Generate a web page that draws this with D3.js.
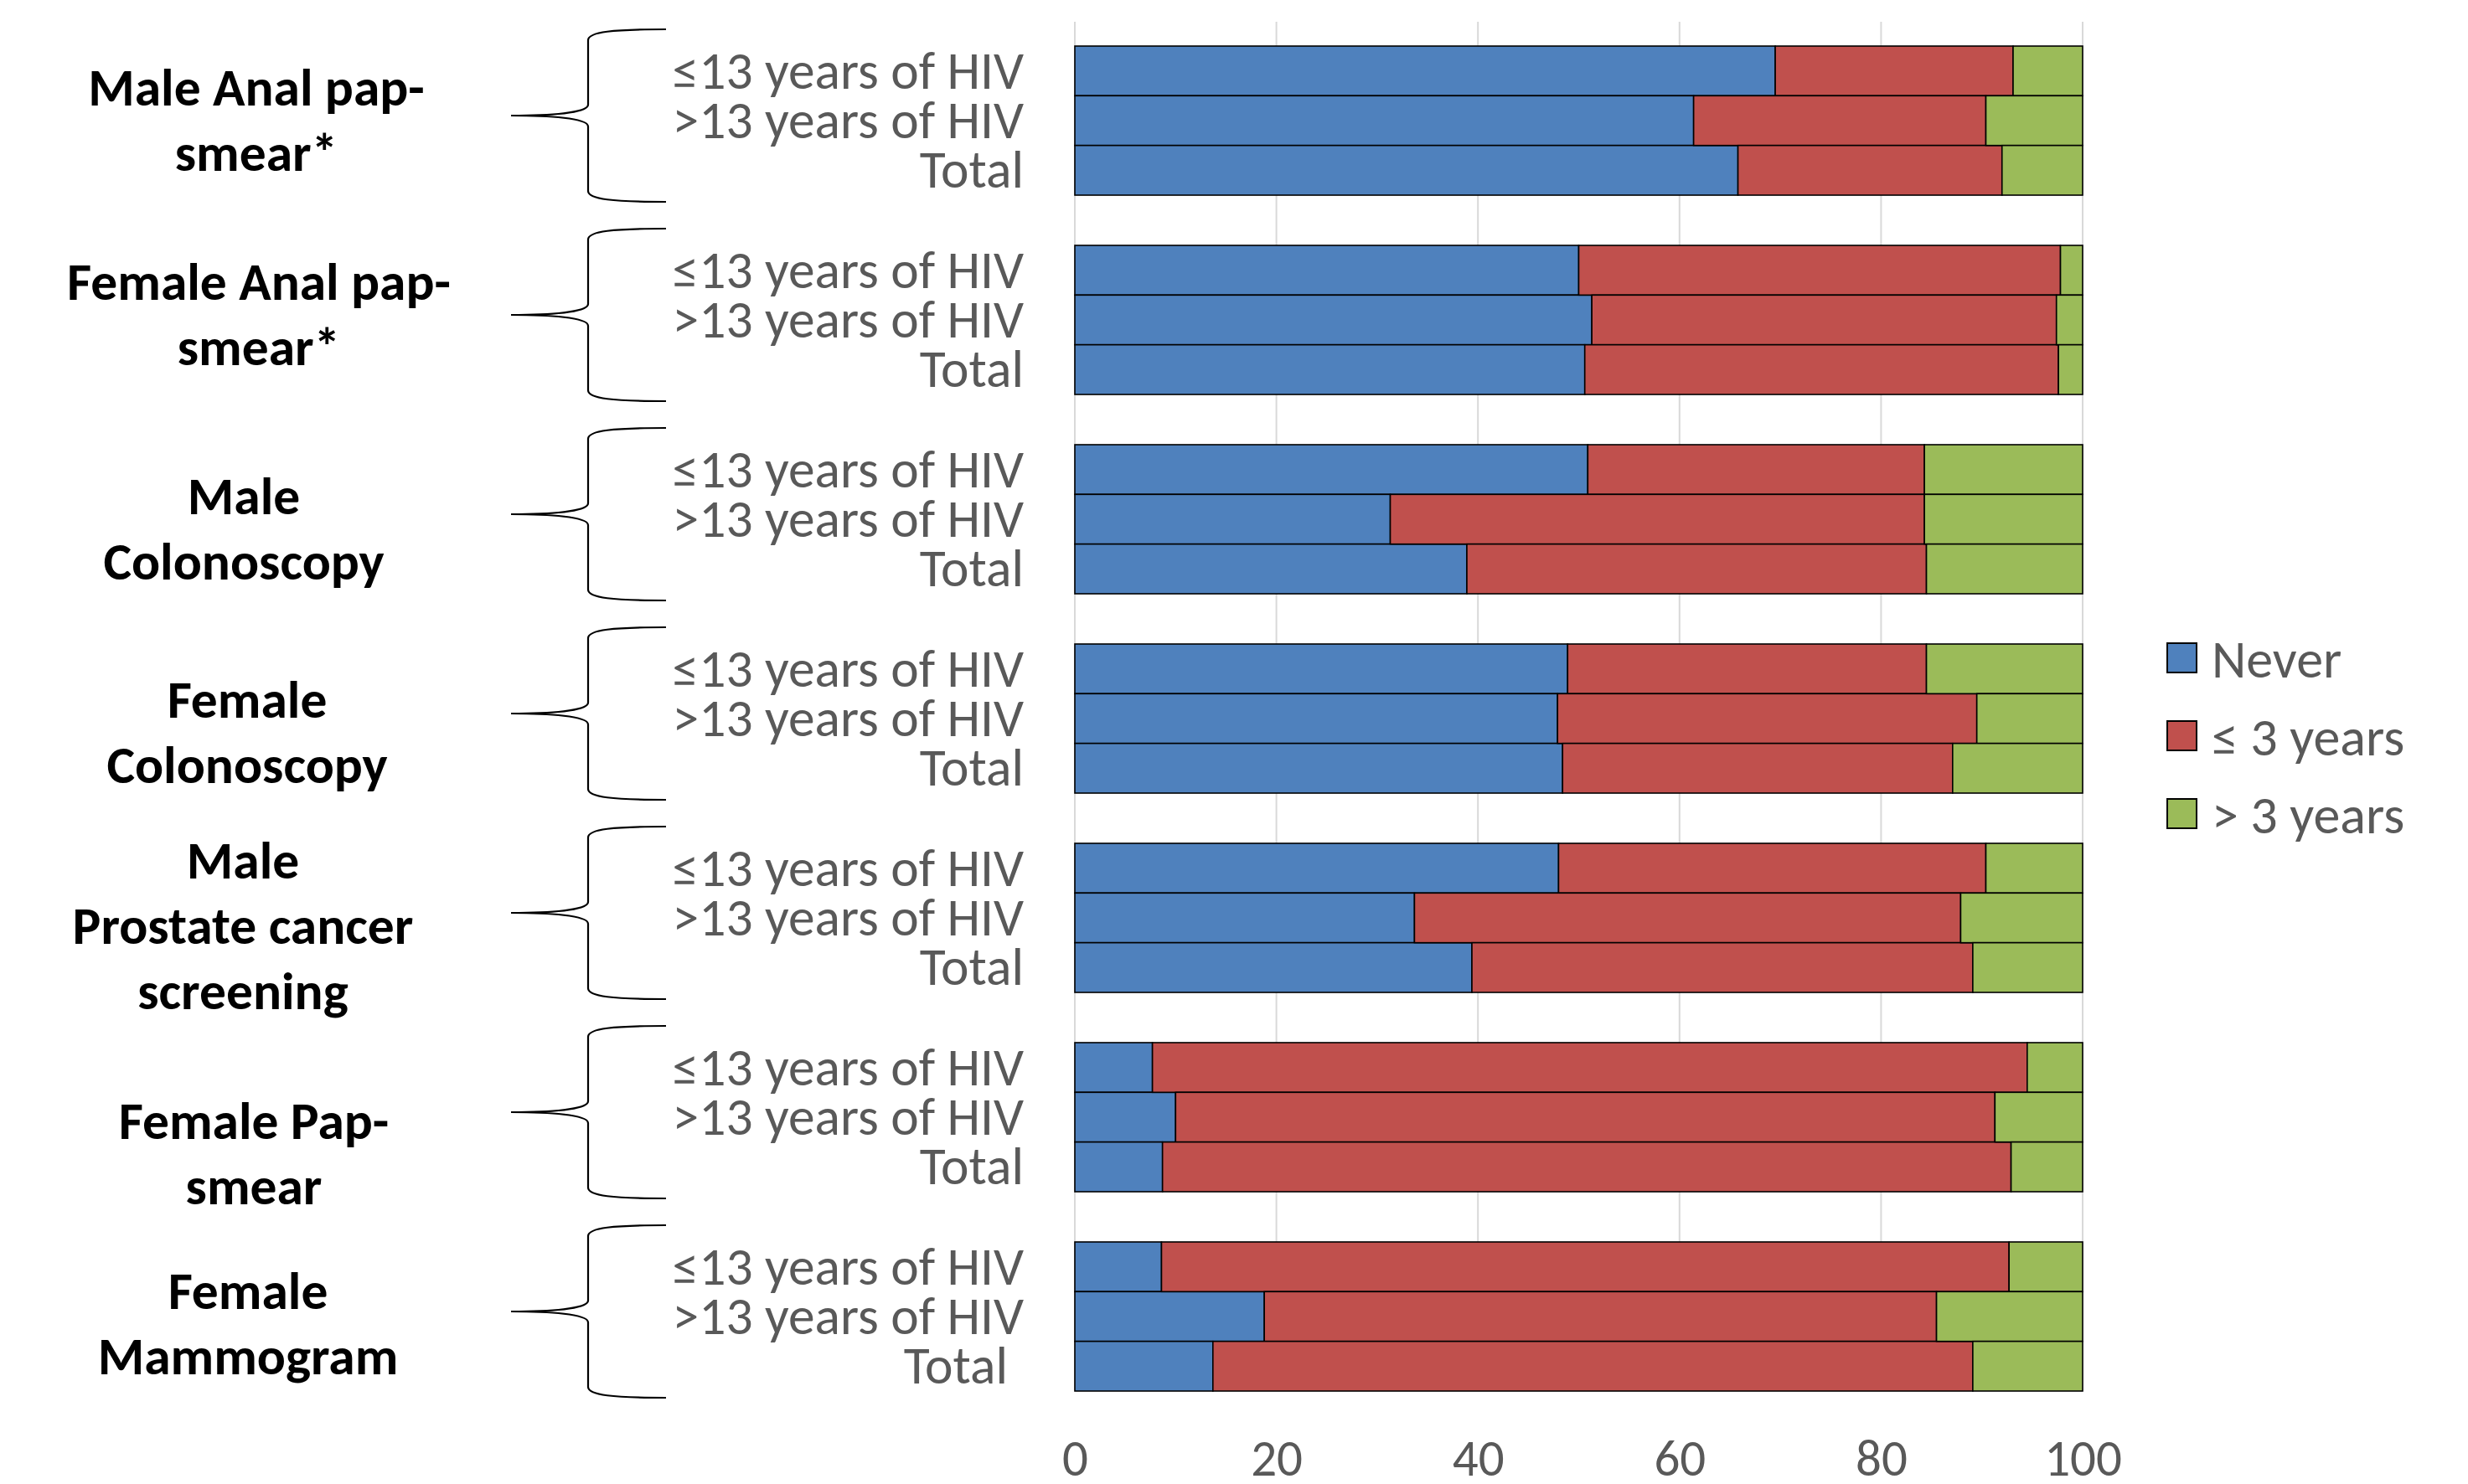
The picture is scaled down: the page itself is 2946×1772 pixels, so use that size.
<!DOCTYPE html>
<html>
<head>
<meta charset="utf-8">
<script src="https://cdn.jsdelivr.net/npm/d3@7"></script>
<style>
  html, body { margin: 0; padding: 0; background: #fff; }
  svg { display: block; }
</style>
</head>
<body>
<svg id="chart" width="2946" height="1772"></svg>
<script>
// ---------------- DATA ----------------
const groups = [
  "Male Anal pap-smear*",
  "Female Anal pap-smear*",
  "Male Colonoscopy",
  "Female Colonoscopy",
  "Male Prostate cancer screening",
  "Female Pap-smear",
  "Female Mammogram"
];
const groupLabelLines = [
  ["Male Anal pap-", "smear*"],
  ["Female Anal pap-", "smear*"],
  ["Male", "Colonoscopy"],
  ["Female", "Colonoscopy"],
  ["Male", "Prostate cancer", "screening"],
  ["Female Pap-", "smear"],
  ["Female", "Mammogram"]
];
const subgroups = ["≤13 years of HIV", ">13 years of HIV", "Total"];
const seriesNames = ["Never", "≤ 3 years", "> 3 years"];

// values per row (groups x subgroups, in order), percent
const never = [69.5, 61.4, 65.8,  50.0, 51.3, 50.6,  50.9, 31.3, 38.9,  48.9, 47.9, 48.4,
               48.0, 33.7, 39.4,   7.7, 10.0,  8.7,   8.6, 18.8, 13.7];
const within3 = [23.6, 29.0, 26.2,  47.8, 46.1, 47.0,  33.4, 53.0, 45.6,  35.6, 41.6, 38.7,
                 42.4, 54.2, 49.7,  86.8, 81.3, 84.2,  84.1, 66.7, 75.4];
const over3 = [6.9, 9.6, 8.0,  2.2, 2.6, 2.4,  15.7, 15.7, 15.5,  15.5, 10.5, 12.9,
               9.6, 12.1, 10.9,  5.5, 8.7, 7.1,  7.3, 14.5, 10.9];
const xTicks = [0, 20, 40, 60, 80, 100];

// ---------------- LAYOUT / STYLE ----------------
const W = 2946, H = 1772;
const colors = ["#4F81BD", "#C0504D", "#9BBB59"];
const textGray = "#595959";
const fontFam = "Carlito, Calibri, Lato, 'Open Sans', sans-serif";
const labelCenterX = [306, 309, 291, 295, 290, 303, 296];
const labelNudgeY = [-2, -8, 10, 15, 8, 42, 7];

const svg = d3.select("#chart");

const x = d3.scaleLinear().domain([0, 100]).range([1283, 2486]);
const yGroup = d3.scaleBand().domain(groups).range([55, 1661]).paddingInner(0.252).paddingOuter(0);
const ySub = d3.scaleBand().domain(subgroups).range([0, yGroup.bandwidth()]).padding(0);

// rows table
const rows = [];
groups.forEach((g, gi) => {
  subgroups.forEach((s, si) => {
    const i = gi * 3 + si;
    rows.push({ group: g, sub: s, gi: gi, si: si, "Never": never[i], "≤ 3 years": within3[i], "> 3 years": over3[i] });
  });
});
const stacked = d3.stack().keys(seriesNames)(rows);

// gridlines
const plotTop = 26, plotBottom = 1661;
svg.append("g").selectAll("line")
  .data(xTicks).join("line")
  .attr("x1", d => x(d)).attr("x2", d => x(d))
  .attr("y1", plotTop).attr("y2", plotBottom)
  .attr("stroke", "#d9d9d9").attr("stroke-width", 2);

// bars
const yRow = d => yGroup(d.data.group) + ySub(d.data.sub);
svg.append("g").selectAll("g")
  .data(stacked).join("g")
  .attr("fill", (d, i) => colors[i])
  .selectAll("rect")
  .data(d => d).join("rect")
  .attr("x", d => x(d[0]))
  .attr("width", d => x(d[1]) - x(d[0]))
  .attr("y", d => yRow(d))
  .attr("height", ySub.bandwidth())
  .attr("stroke", "#000").attr("stroke-width", 1.6);

// x axis labels
const xAxis = d3.axisBottom(x).tickValues(xTicks).tickSize(0).tickPadding(0);
const gx = svg.append("g").attr("transform", `translate(0, 1719)`).call(xAxis);
gx.select(".domain").remove();
gx.selectAll("text")
  .attr("fill", textGray).attr("font-family", fontFam).attr("font-size", 61)
  .attr("dy", "0.71em").attr("y", 0);

// subgroup labels (the last "Total" sits slightly further left in the original)
svg.append("g").selectAll("text")
  .data(rows).join("text")
  .attr("x", d => (d.gi === groups.length - 1 && d.si === 2) ? 1203 : 1222)
  .attr("y", d => yGroup(d.group) + ySub(d.sub) + ySub.bandwidth() / 2 - 2)
  .attr("dy", "0.36em")
  .attr("text-anchor", "end")
  .attr("fill", textGray).attr("font-family", fontFam).attr("font-size", 63.5)
  .text(d => d.sub);

// brackets
const brX = { tip: 610, vert: 702, end: 795 };
svg.append("g").selectAll("path")
  .data(groups).join("path")
  .attr("d", g => {
    const top = yGroup(g) - 20, bot = yGroup(g) + yGroup.bandwidth() + 8, mid = (top + bot) / 2;
    return `M${brX.end},${top} C${brX.vert + 30},${top} ${brX.vert},${top + 3} ${brX.vert},${top + 13}` +
           ` L${brX.vert},${mid - 13} C${brX.vert},${mid - 3} ${brX.tip + 45},${mid} ${brX.tip},${mid}` +
           ` M${brX.tip},${mid} C${brX.tip + 45},${mid} ${brX.vert},${mid + 3} ${brX.vert},${mid + 13}` +
           ` L${brX.vert},${bot - 13} C${brX.vert},${bot - 3} ${brX.vert + 30},${bot} ${brX.end},${bot}`;
  })
  .attr("fill", "none").attr("stroke", "#000").attr("stroke-width", 2.2);

// group labels
const lineH = 78;
const gl = svg.append("g").selectAll("text")
  .data(groups).join("text")
  .attr("text-anchor", "middle")
  .attr("font-family", fontFam).attr("font-weight", "bold").attr("font-size", 63.5)
  .attr("fill", "#000");
gl.each(function (g, gi) {
  const lines = groupLabelLines[gi];
  const cy = yGroup(g) + yGroup.bandwidth() / 2 + labelNudgeY[gi];
  const y0 = cy - (lines.length - 1) * lineH / 2;
  d3.select(this).selectAll("tspan")
    .data(lines).join("tspan")
    .attr("x", labelCenterX[gi])
    .attr("y", (d, i) => y0 + i * lineH)
    .attr("dy", "0.36em")
    .text(d => d);
});

// legend
const legend = svg.append("g").attr("transform", "translate(2587, 768)");
const li = legend.selectAll("g").data(seriesNames).join("g")
  .attr("transform", (d, i) => `translate(0, ${i * 93})`);
li.append("rect").attr("width", 35).attr("height", 35)
  .attr("fill", (d, i) => colors[i]).attr("stroke", "#000").attr("stroke-width", 2);
li.append("text").attr("x", 53).attr("y", 17.5).attr("dy", "0.36em")
  .attr("fill", textGray).attr("font-family", fontFam).attr("font-size", 64)
  .text(d => d);
</script>
</body>
</html>
